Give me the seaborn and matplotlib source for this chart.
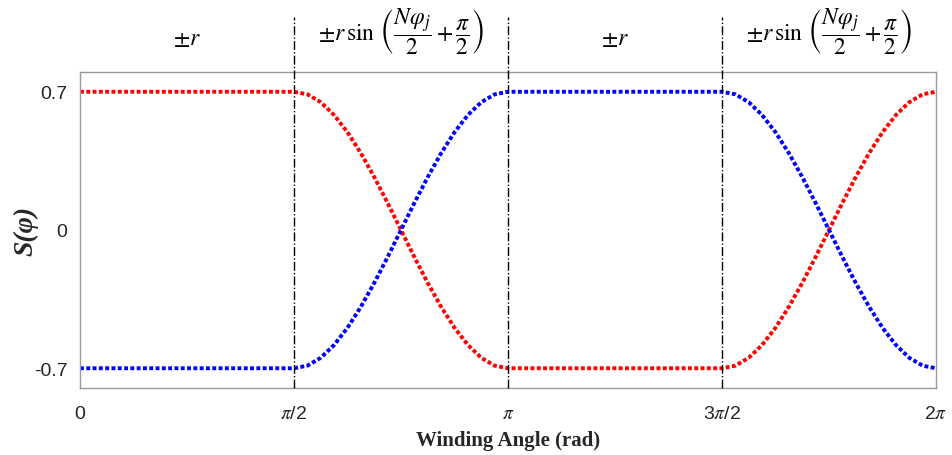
import numpy as np
import matplotlib
matplotlib.use("Agg")
import matplotlib.pyplot as plt
import matplotlib.transforms as mtransforms
import seaborn as sns

# ---- data (x positions in units of pi/32) ----
x_idx = [0] + list(range(16, 33)) + list(range(48, 65))
red_vals = [0.700,
            0.700, 0.687, 0.647, 0.582, 0.495, 0.389, 0.268, 0.137, 0.000,
            -0.137, -0.268, -0.389, -0.495, -0.582, -0.647, -0.687, -0.700,
            -0.700, -0.687, -0.647, -0.582, -0.495, -0.389, -0.268, -0.137, 0.000,
            0.137, 0.268, 0.389, 0.495, 0.582, 0.647, 0.687, 0.700]
blue_vals = [-0.700,
             -0.700, -0.687, -0.647, -0.582, -0.495, -0.389, -0.268, -0.137, 0.000,
             0.137, 0.268, 0.389, 0.495, 0.582, 0.647, 0.687, 0.700,
             0.700, 0.687, 0.647, 0.582, 0.495, 0.389, 0.268, 0.137, 0.000,
             -0.137, -0.268, -0.389, -0.495, -0.582, -0.647, -0.687, -0.700]
x_ticks = [0, 0.5, 1.0, 1.5, 2.0]  # multiples of pi
x_tick_labels = ["0", r"$\pi$/2", r"$\pi$", r"3$\pi$/2", r"2$\pi$"]
y_ticks = [-0.7, 0, 0.7]
y_tick_labels = ["-0.7", "0", "0.7"]
boundaries = [0.5, 1.0, 1.5]  # multiples of pi
region_labels = [r"$\pm r$",
                 r"$\pm r\,\sin\,\left(\dfrac{N\varphi_j}{2}+\dfrac{\pi}{2}\right)$",
                 r"$\pm r$",
                 r"$\pm r\,\sin\,\left(\dfrac{N\varphi_j}{2}+\dfrac{\pi}{2}\right)$"]
region_centers = [0.25, 0.75, 1.25, 1.75]

x = [np.pi * k / 32 for k in x_idx]

sns.set_style("white")
plt.rcParams["font.family"] = ["Liberation Sans", "DejaVu Sans"]
plt.rcParams["mathtext.fontset"] = "stix"

fig = plt.figure(figsize=(9.52, 4.56), dpi=100)
ax = fig.add_axes([80 / 952, 1 - 389 / 456, (936 - 80) / 952, (389 - 73) / 456])

dot = (0, (1, 0.62))
sns.lineplot(x=x, y=red_vals, ax=ax, color="#ff0000", linewidth=2.8,
             linestyle=dot, sort=False)
sns.lineplot(x=x, y=blue_vals, ax=ax, color="#0000ff", linewidth=2.8,
             linestyle=dot, sort=False)

ax.set_xlim(0, 2 * np.pi)
ax.set_ylim(-0.8, 0.8)

trans = mtransforms.blended_transform_factory(ax.transData, ax.transAxes)
top = 1 + (73 - 18) / (389 - 73)
for b in boundaries:
    ax.plot([b * np.pi, b * np.pi], [0, top], transform=trans, color="black",
            linestyle="-.", linewidth=1.0, clip_on=False, zorder=5)

ftrans = mtransforms.blended_transform_factory(ax.transData, fig.transFigure)
for c, lab in zip(region_centers, region_labels):
    yy = 1 - 39 / 456 if lab == r"$\pm r$" else 1 - 32 / 456
    fig.text(c * np.pi, yy, lab, transform=ftrans, ha="center", va="center",
             fontsize=17, color="black")

ax.set_xticks([t * np.pi for t in x_ticks])
ax.set_xticklabels(x_tick_labels, fontsize=14, color="#262626")
ax.set_yticks(y_ticks)
ax.set_yticklabels(y_tick_labels, fontsize=14, color="#262626")
ax.tick_params(axis="y", direction="in", length=3, width=0.8, color="#262626", pad=9)
ax.tick_params(axis="x", direction="in", length=3, width=0.8, color="#262626", pad=12)

for s in ax.spines.values():
    s.set_color("#999999")
    s.set_linewidth(1.0)

ax.set_xlabel("Winding Angle (rad)", fontsize=15, fontweight="bold",
              family="Liberation Serif", color="#262626", labelpad=6)
ax.set_ylabel("S(φ)", fontsize=20, fontweight="bold", fontstyle="italic",
              family="Liberation Serif", color="#262626", labelpad=-3)

fig.savefig("out.png", dpi=100)
